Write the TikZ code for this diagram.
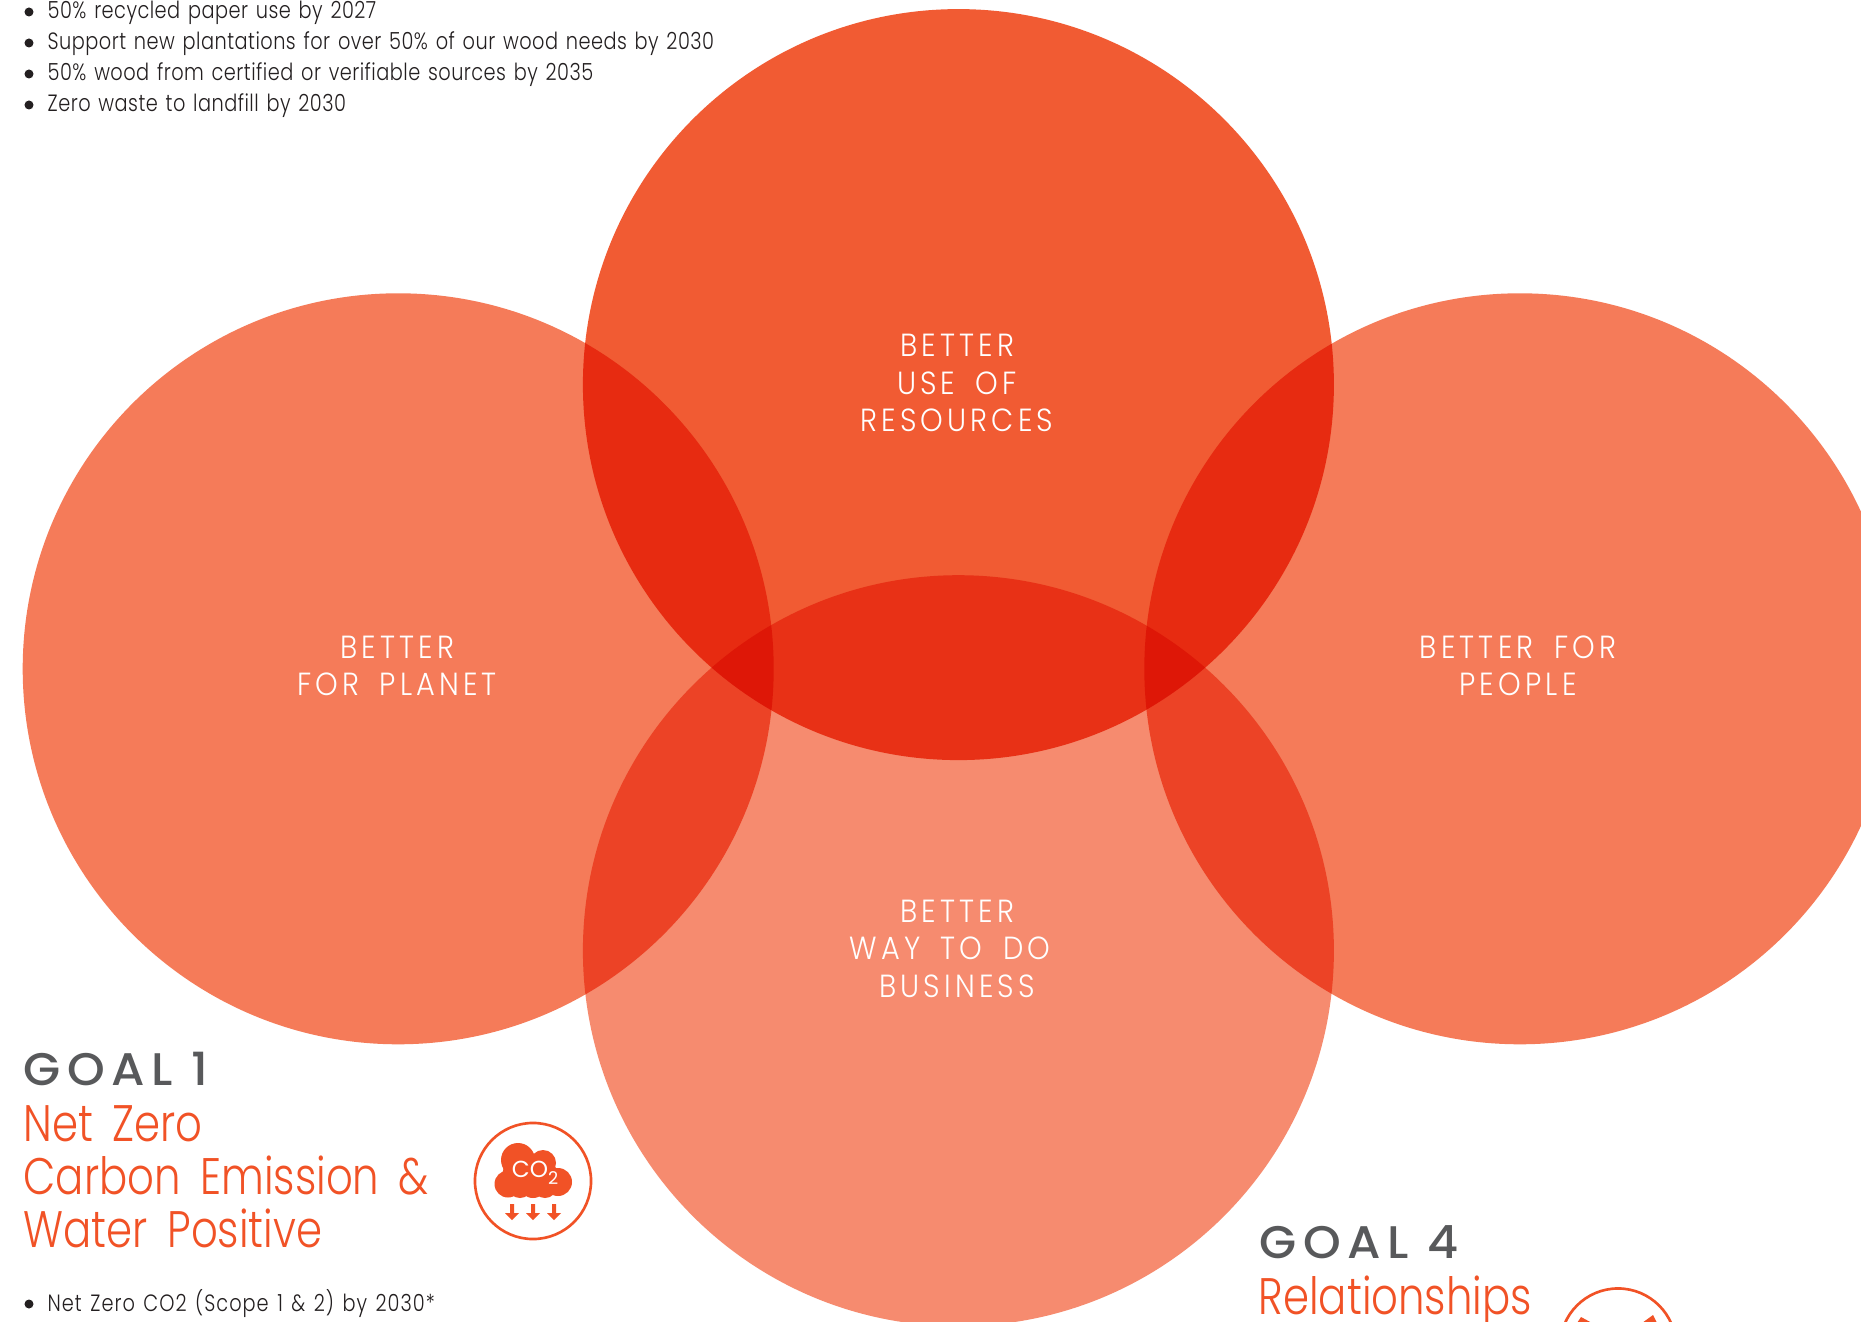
\documentclass[tikz,border=0pt]{standalone}
\usepackage{fontspec}
\setmainfont{Poppins}
\newfontfamily\bodyfont{Poppins}[UprightFont=* Light,FakeStretch=0.82,LetterSpace=2,WordSpace=1.35]
\newfontfamily\headfont{Poppins}[UprightFont=* Light,FakeStretch=0.815,WordSpace=1.7]
\newfontfamily\capsfont{Poppins}[UprightFont=* Light,FakeStretch=0.9,LetterSpace=13,WordSpace=1.7]
\newfontfamily\goalfont{Poppins}[UprightFont=* Medium,FakeStretch=1.05,LetterSpace=14,WordSpace=1]
\definecolor{topfill}{HTML}{F15B33}
\definecolor{sidefill}{HTML}{F57B59}
\definecolor{lowfill}{HTML}{F68B6F}
\definecolor{goalorange}{HTML}{F15226}
\definecolor{goalgrey}{HTML}{58595B}
\definecolor{bodyink}{HTML}{231F20}
\tikzset{
  venn/.style={circle,minimum size=751*0.01cm,inner sep=0pt,blend mode=multiply},
  capslabel/.style={align=center,text=white,inner sep=0pt,
    font=\capsfont\fontsize{9.1pt}{10.66pt}\selectfont},
  goalnum/.style={anchor=base west,inner sep=0pt,text=goalgrey,
    font=\goalfont\fontsize{13pt}{15pt}\selectfont},
  goaltitle/.style={anchor=west,align=left,inner sep=0pt,text=goalorange,
    font=\headfont\fontsize{14.6pt}{15.08pt}\selectfont},
  item/.style={anchor=base west,inner sep=0pt,text=bodyink,
    font=\bodyfont\fontsize{6.7pt}{8pt}\selectfont},
  dotmark/.style={circle,fill=bodyink,inner sep=0pt,minimum size=0.09cm},
  ring/.style={circle,draw=goalorange,line width=0.75pt,fill=white,inner sep=0pt,minimum size=1.16cm},
  puff/.style={fill=goalorange}
}
\begin{document}
\begin{tikzpicture}[x=0.01cm,y=-0.01cm]
\useasboundingbox (0,0) rectangle (1861,1322);
\clip (0,0) rectangle (1861,1322);
\fill[white] (0,0) rectangle (1861,1322);
% circles
\node[venn,fill=topfill] (resources) at (958.4,384.6) {};
\node[venn,fill=sidefill] (planet) at (398.2,668.8) {};
\node[venn,fill=sidefill] (people) at (1519.8,668.8) {};
\node[venn,fill=lowfill] (business) at (958.4,950.7) {};
% labels
\node[capslabel] (resourceslabel) at (957,383) {BETTER\\USE OF\\RESOURCES};
\node[capslabel] (planetlabel) at (397,666) {BETTER\\FOR PLANET};
\node[capslabel] (peoplelabel) at (1518,666) {BETTER FOR\\PEOPLE};
\node[capslabel] (businesslabel) at (957,948.5) {BETTER\\WAY TO DO\rule{0.44em}{0pt}\\BUSINESS};
% top list
\foreach \i/\y/\t in {1/19/50\% recycled paper use by 2027,
  2/50/Support new plantations for over 50\% of our wood needs by 2030,
  3/81/50\% wood from certified or verifiable sources by 2035,
  4/112/Zero waste to landfill by 2030} {
  \node[dotmark] (dot\i) at (29,\y-7) {};
  \node[item] (item\i) at (47,\y) {\t};
}
% goal 1
\node[goalnum] (goalone) at (23,1085) {GOAL 1};
\node[goaltitle] (goalonetitle) at (23,1177) {Net Zero\\Carbon Emission \&\\Water Positive};
\node[dotmark] (dotfive) at (29,1304) {};
\node[item] (itemfive) at (47,1311) {\addfontfeature{LetterSpace=4.3}Net Zero CO2 (Scope 1 \& 2) by 2030*};
\node[ring] (ringone) at (533,1181) {};
\foreach \x/\y/\r in {518/1160/17,543/1163/13,508/1184/13.5,558/1182/14,533/1184/14,525/1176/15,
  545/1178/15,520/1172/17,520/1186/12,545/1186/12}
  \fill[puff] (\x,\y) circle[radius=\r];
\node[inner sep=0pt,text=white,font=\fontsize{6.6pt}{7pt}\selectfont] (cotwo) at (535,1173)
  {CO\raisebox{-0.3em}{\fontsize{5pt}{5pt}\selectfont 2}};
\foreach \x in {512,533,554}
  \fill[puff] (\x-2,1204) -- (\x+2,1204) -- (\x+2,1213) -- (\x+7,1213) -- (\x,1220)
    -- (\x-7,1213) -- (\x-2,1213) -- cycle;
% goal 4
\node[goalnum] (goalfour) at (1259,1258) {GOAL 4};
\node[goaltitle,anchor=base west] (goalfourtitle) at (1258,1314) {Relationships};
\node[ring] (ringfour) at (1618,1346.5) {};
\fill[puff] (1581,1317) -- (1592,1323) -- (1577,1323) -- cycle;
\fill[puff] (1653,1315) -- (1657,1323) -- (1642,1323) -- cycle;
\fill[puff] (1619,1327) circle[radius=5];
\end{tikzpicture}
\end{document}
